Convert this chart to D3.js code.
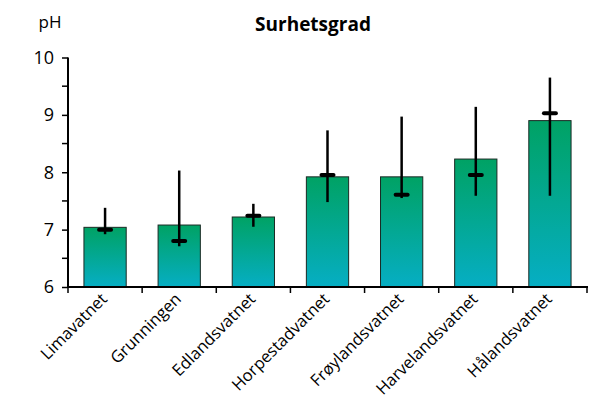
<!DOCTYPE html>
<html>
<head>
<meta charset="utf-8">
<script src="https://cdn.jsdelivr.net/npm/d3@7"></script>
<style>
  body { margin: 0; background: white; }
  text { font-family: "Open Sans", Lato, sans-serif; }
</style>
</head>
<body>
<div id="container"></div>
<script>
let w = 592,
    h = 403;

// lakes and pH values
let lakes = ['Limavatnet', 'Grunningen', 'Edlandsvatnet', 'Horpestadvatnet',
             'Frøylandsvatnet', 'Harvelandsvatnet', 'Hålandsvatnet'];
let meanPH   = [7.04, 7.08, 7.22, 7.92, 7.92, 8.23, 8.90];
let medianPH = [7.00, 6.80, 7.24, 7.95, 7.61, 7.95, 9.03];
let minPH    = [6.92, 6.71, 7.05, 7.48, 7.55, 7.59, 7.59];
let maxPH    = [7.38, 8.03, 7.45, 8.73, 8.97, 9.14, 9.65];
let yTicks = [6, 7, 8, 9, 10];
let yMinor = [6.5, 7.5, 8.5, 9.5];

let rows = lakes.map((d, i) => ({
  lake: d, mean: meanPH[i], median: medianPH[i], min: minPH[i], max: maxPH[i]
}));

let viz = d3.select('#container')
    .append('svg')
      .attr('width', w)
      .attr('height', h)
      .style('background', 'white');

let plotL = 68, plotR = 587, plotT = 57.5, plotB = 287;

let x = d3.scaleBand()
    .domain(lakes)
    .range([plotL, plotR])
    .paddingInner(0.43)
    .paddingOuter(0.215);

let y = d3.scaleLinear()
    .domain([6, 10])
    .range([plotB, plotT]);

let grad = viz.append('defs').append('linearGradient')
    .attr('id', 'barfill')
    .attr('x1', 0).attr('y1', 0).attr('x2', 0).attr('y2', 1);
grad.append('stop').attr('offset', '0%').attr('stop-color', '#00a264');
grad.append('stop').attr('offset', '100%').attr('stop-color', '#06aec4');

// bars
viz.append('g').selectAll('rect')
  .data(rows)
  .enter()
    .append('rect')
      .attr('x', d => x(d.lake))
      .attr('y', d => y(d.mean))
      .attr('width', x.bandwidth())
      .attr('height', d => y(6) - y(d.mean))
      .attr('fill', 'url(#barfill)')
      .attr('stroke', '#1a2a24')
      .attr('stroke-width', 1);

// range lines
let cx = d => x(d.lake) + x.bandwidth() / 2;
viz.append('g').selectAll('line')
  .data(rows)
  .enter()
    .append('line')
      .attr('x1', cx).attr('x2', cx)
      .attr('y1', d => y(d.min))
      .attr('y2', d => y(d.max))
      .attr('stroke', 'black')
      .attr('stroke-width', 2.5);

// median dash
viz.append('g').selectAll('line')
  .data(rows)
  .enter()
    .append('line')
      .attr('x1', d => cx(d) - 6).attr('x2', d => cx(d) + 6)
      .attr('y1', d => y(d.median))
      .attr('y2', d => y(d.median))
      .attr('stroke', 'black')
      .attr('stroke-width', 4)
      .attr('stroke-linecap', 'round');

// y axis
let yAxis = viz.append('g')
    .attr('transform', 'translate(' + plotL + ',0)')
    .call(d3.axisLeft(y).tickValues(yTicks).tickFormat(d3.format('d')).tickSize(6).tickPadding(8));
yAxis.append('g').selectAll('line')
  .data(yMinor)
  .enter()
    .append('line')
      .attr('x1', -6).attr('x2', 0)
      .attr('y1', d => y(d)).attr('y2', d => y(d))
      .attr('stroke', 'black').attr('stroke-width', 1.5);
yAxis.select('.domain').attr('stroke-width', 2).attr('d', 'M0,' + plotT + 'V' + plotB);
yAxis.selectAll('.tick line').attr('stroke-width', 1.5);
yAxis.selectAll('text')
    .attr('font-size', 18)
    .attr('font-family', '"Open Sans", sans-serif')
    .attr('fill', 'black');

// x axis
let xAxis = viz.append('g')
    .attr('transform', 'translate(0,' + plotB + ')');
xAxis.append('line')
    .attr('x1', plotL).attr('x2', plotR + 1)
    .attr('stroke', 'black').attr('stroke-width', 2);
let bounds = lakes.map(d => x(d) - x.step() * x.paddingInner() / 2).concat([plotR]);
xAxis.selectAll('.xt')
  .data(bounds)
  .enter()
    .append('line')
      .attr('class', 'xt')
      .attr('x1', d => d).attr('x2', d => d)
      .attr('y1', 0).attr('y2', 6)
      .attr('stroke', 'black').attr('stroke-width', 1.5);
xAxis.selectAll('.xl')
  .data(lakes)
  .enter()
    .append('text')
      .attr('class', 'xl')
      .attr('text-anchor', 'end')
      .attr('font-size', 16.5)
      .attr('transform', d => 'translate(' + (x(d) + x.bandwidth() / 2 + 3) + ',' + 13 + ') rotate(-45)')
      .text(d => d);

// title and unit
viz.append('text')
    .attr('x', 313).attr('y', 31)
    .attr('text-anchor', 'middle')
    .attr('font-size', 19)
    .attr('font-weight', 'bold')
    .text('Surhetsgrad');
viz.append('text')
    .attr('x', 50).attr('y', 28)
    .attr('text-anchor', 'middle')
    .attr('font-size', 17)
    .text('pH');
</script>
</body>
</html>
